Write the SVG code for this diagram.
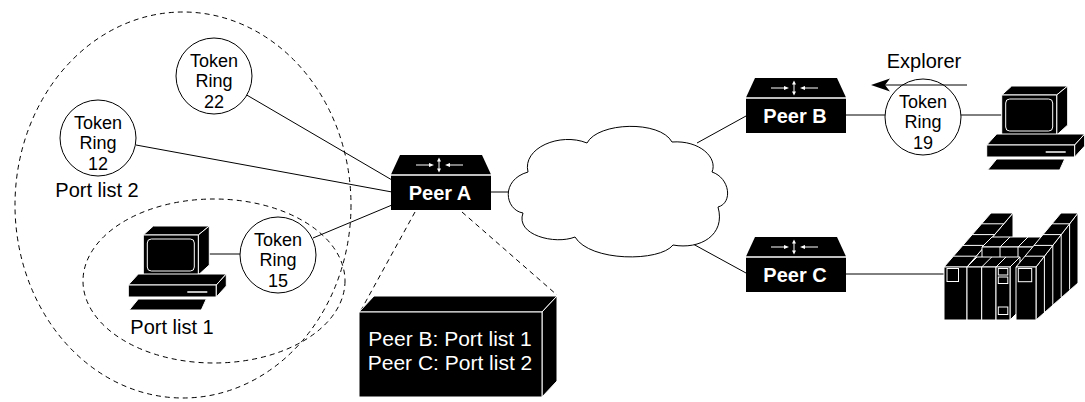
<svg xmlns="http://www.w3.org/2000/svg" xmlns:xlink="http://www.w3.org/1999/xlink" width="1085" height="402" viewBox="0 0 1085 402">
  <style>
    .ln { stroke: #000; stroke-width: 1; fill: none; }
    .dash { stroke: #000; stroke-width: 1; fill: none; stroke-dasharray: 5 4; }
    .ring { fill: #fff; stroke: #000; stroke-width: 1; }
    .txt { font-family: "Liberation Sans", Arial, Helvetica, sans-serif; fill: #000; }
    .tr { font-size: 18px; text-anchor: middle; }
    .lbl { font-size: 20px; }
    .rt { font-family: "Liberation Sans", Arial, Helvetica, sans-serif; font-size: 20px; font-weight: bold; fill: #fff; text-anchor: middle; }
    .wt { font-family: "Liberation Sans", Arial, Helvetica, sans-serif; font-size: 21px; fill: #fff; text-anchor: middle; }
    .blk { fill: #000; stroke: #fff; stroke-width: 1; stroke-linejoin: round; }
    .wl { stroke: #fff; stroke-width: 1; fill: none; }
  </style>
  <defs>
    <!-- router: origin at top-centre of the chassis -->
    <g id="router">
      <polygon points="-41,0 41,0 50,19.5 -50,19.5" fill="#000"/>
      <rect x="-50" y="20.5" width="100" height="34.5" fill="#000"/>
      <line x1="-50" y1="20" x2="50" y2="20" stroke="#fff" stroke-width="1"/>
      <line x1="-25" y1="10" x2="-10" y2="10" class="wl"/>
      <polygon points="-7,10 -12,8 -12,12" fill="#fff"/>
      <line x1="22" y1="10" x2="7" y2="10" class="wl"/>
      <polygon points="4,10 9,8 9,12" fill="#fff"/>
      <line x1="-2" y1="5" x2="-2" y2="15" class="wl"/>
      <polygon points="-2,2.5 -4,6.5 0,6.5" fill="#fff"/>
      <polygon points="-2,17.5 -4,13.5 0,13.5" fill="#fff"/>
    </g>
    <!-- workstation: origin at top-left of the monitor front -->
    <g id="pc">
      <polygon class="blk" points="0,0 10,-9 66,-9 55,0"/>
      <polygon class="blk" points="55,0 66,-9 66,30 55,40"/>
      <rect class="blk" x="0" y="0" width="55" height="40"/>
      <rect x="4" y="4" width="47" height="32" rx="4" fill="none" stroke="#fff" stroke-width="1"/>
      <polygon class="blk" points="-15,50 -5,39 83,39 73,50"/>
      <rect class="blk" x="-15" y="50" width="88" height="12"/>
      <polygon class="blk" points="73,50 83,39 83,51 73,62"/>
      <line x1="44" y1="57" x2="64" y2="57" stroke="#fff" stroke-width="1.5"/>
      <polygon class="blk" points="-14,75 -5,64 63,64 58,75"/>
    </g>
  </defs>

  <rect width="1085" height="402" fill="#fff"/>

  <!-- port list groupings -->
  <g id="port-lists">
    <ellipse class="dash" cx="183" cy="205" rx="168" ry="193"/>
    <ellipse class="dash" cx="214" cy="281" rx="131" ry="82"/>
  </g>

  <!-- connectors -->
  <g id="connectors">
    <line class="ln" x1="246.7" y1="95" x2="392" y2="180"/>
    <line class="ln" x1="136" y1="145" x2="392" y2="192"/>
    <line class="ln" x1="313" y1="238" x2="392" y2="205"/>
    <line class="ln" x1="209" y1="254" x2="240" y2="254"/>
    <line class="ln" x1="491" y1="192" x2="510" y2="192"/>
    <line class="ln" x1="697" y1="143" x2="746" y2="116"/>
    <line class="ln" x1="693" y1="244" x2="746" y2="273"/>
    <line class="ln" x1="846" y1="115" x2="885" y2="115"/>
    <line class="ln" x1="961" y1="115" x2="1002" y2="115"/>
    <line class="ln" x1="846" y1="274" x2="944" y2="274"/>
    <line class="dash" x1="415" y1="212" x2="360" y2="312"/>
    <line class="dash" x1="462" y1="212" x2="557" y2="295"/>
  </g>

  <!-- Peer A -->
  <g id="peer-a">
    <use xlink:href="#router" href="#router" transform="translate(441,155)"/>
    <text class="rt" x="440" y="200">Peer A</text>
  </g>

  <!-- Peer B -->
  <g id="peer-b">
    <use xlink:href="#router" href="#router" transform="translate(796,78)"/>
    <text class="rt" x="795" y="123">Peer B</text>
  </g>

  <!-- Peer C -->
  <g id="peer-c">
    <use xlink:href="#router" href="#router" transform="translate(796,237)"/>
    <text class="rt" x="795" y="282">Peer C</text>
  </g>

  <!-- WAN cloud -->
  <g id="cloud">
    <path fill="#fff" stroke="#000" stroke-width="1"
          d="M523,213 C505,210 500,180 528,172 C522,148 560,132 587,143 C598,122 660,120 672,142 C700,140 718,158 712,172 C730,178 733,203 718,207 C726,235 700,250 673,245 C660,262 590,262 575,237 C555,245 515,235 523,213 Z"/>
  </g>

  <!-- Token Ring 22 -->
  <g id="ring-22">
    <circle class="ring" cx="214" cy="76" r="38"/>
    <text class="txt tr" x="214" y="66.5">Token</text>
    <text class="txt tr" x="214" y="87">Ring</text>
    <text class="txt tr" x="214" y="107.5">22</text>
  </g>

  <!-- Token Ring 12 -->
  <g id="ring-12">
    <circle class="ring" cx="98" cy="138" r="38"/>
    <text class="txt tr" x="98" y="128.5">Token</text>
    <text class="txt tr" x="98" y="149">Ring</text>
    <text class="txt tr" x="98" y="169.5">12</text>
  </g>

  <!-- Token Ring 15 -->
  <g id="ring-15">
    <circle class="ring" cx="278" cy="255" r="38"/>
    <text class="txt tr" x="278" y="245.5">Token</text>
    <text class="txt tr" x="278" y="266">Ring</text>
    <text class="txt tr" x="278" y="286.5">15</text>
  </g>

  <!-- Token Ring 19 -->
  <g id="ring-19">
    <circle class="ring" cx="923" cy="117" r="38"/>
    <text class="txt tr" x="923" y="107.5">Token</text>
    <text class="txt tr" x="923" y="128">Ring</text>
    <text class="txt tr" x="923" y="148.5">19</text>
  </g>

  <!-- explorer frame direction -->
  <g id="explorer">
    <line class="ln" x1="967" y1="85" x2="884" y2="85" stroke-width="1.2"/>
    <polygon points="871,85 890,78.5 885,85 890,91.5" fill="#000"/>
    <text class="txt lbl" x="924" y="68" text-anchor="middle">Explorer</text>
  </g>

  <!-- port list labels -->
  <g id="port-list-2">
    <text class="txt lbl" x="97" y="197" text-anchor="middle">Port list 2</text>
  </g>
  <g id="port-list-1">
    <text class="txt lbl" x="172" y="334" text-anchor="middle">Port list 1</text>
  </g>

  <!-- workstation on ring 15 -->
  <g id="pc-left">
    <use xlink:href="#pc" href="#pc" transform="translate(143.3,235)"/>
  </g>

  <!-- workstation on ring 19 -->
  <g id="pc-right">
    <use xlink:href="#pc" href="#pc" transform="translate(1001.7,95)"/>
  </g>

  <!-- host cabinets behind Peer C -->
  <g id="mainframe">
    <!-- left arm -->
    <polygon class="blk" points="967,267 1013,213 1013,268 967,320"/>
    <polygon class="blk" points="944,267 991,213 1013,213 967,267"/>
    <line class="wl" x1="953.4" y1="256.2" x2="976.2" y2="256.2"/>
    <line class="wl" x1="962.8" y1="245.4" x2="985.4" y2="245.4"/>
    <line class="wl" x1="972.2" y1="234.6" x2="994.6" y2="234.6"/>
    <line class="wl" x1="981.6" y1="223.8" x2="1003.8" y2="223.8"/>
    <rect class="blk" x="944" y="267" width="23" height="53"/>
    <rect x="947" y="268.5" width="11.5" height="13" fill="none" stroke="#fff" stroke-width="1"/>
    <!-- back middle row -->
    <polygon class="blk" points="982,247 992,237 1060,237 1050,247"/>
    <rect class="blk" x="982" y="247" width="68" height="50"/>
    <line class="wl" x1="1000" y1="247" x2="1010" y2="237"/>
    <line class="wl" x1="1018" y1="247" x2="1028" y2="237"/>
    <line class="wl" x1="1033" y1="247" x2="1043" y2="237"/>
    <line class="wl" x1="1000" y1="247" x2="1000" y2="297"/>
    <line class="wl" x1="1018" y1="247" x2="1018" y2="297"/>
    <line class="wl" x1="1033" y1="247" x2="1033" y2="297"/>
    <!-- front middle row -->
    <polygon class="blk" points="1010,267 1020,257 1020,310 1010,320"/>
    <polygon class="blk" points="967,267 977,257 1020,257 1010,267"/>
    <line class="wl" x1="981.7" y1="267" x2="991.7" y2="257"/>
    <line class="wl" x1="996" y1="267" x2="1006" y2="257"/>
    <rect class="blk" x="967" y="267" width="14.7" height="53"/>
    <rect class="blk" x="981.7" y="267" width="14.3" height="53"/>
    <rect class="blk" x="996" y="267" width="14" height="53"/>
    <rect x="998.3" y="268.5" width="9.5" height="6.5" fill="none" stroke="#fff" stroke-width="1"/>
    <rect x="998.3" y="277" width="9.5" height="6.5" fill="none" stroke="#fff" stroke-width="1"/>
    <rect x="998.3" y="307" width="9.5" height="7.5" fill="none" stroke="#fff" stroke-width="1"/>
    <!-- right arm -->
    <polygon class="blk" points="1036,267 1078,213 1078,283 1036,320"/>
    <polygon class="blk" points="1016,267 1061,213 1078,213 1036,267"/>
    <line class="wl" x1="1025" y1="256.2" x2="1044.4" y2="256.2"/>
    <line class="wl" x1="1034" y1="245.4" x2="1052.8" y2="245.4"/>
    <line class="wl" x1="1043" y1="234.6" x2="1061.2" y2="234.6"/>
    <line class="wl" x1="1052" y1="223.8" x2="1069.6" y2="223.8"/>
    <line class="wl" x1="1044.4" y1="256.2" x2="1044.4" y2="312.4"/>
    <line class="wl" x1="1052.8" y1="245.4" x2="1052.8" y2="304.8"/>
    <line class="wl" x1="1061.2" y1="234.6" x2="1061.2" y2="297.2"/>
    <line class="wl" x1="1069.6" y1="223.8" x2="1069.6" y2="289.6"/>
    <rect class="blk" x="1016" y="267" width="20" height="53"/>
    <rect x="1018.3" y="268.5" width="13.4" height="13.2" fill="none" stroke="#fff" stroke-width="1"/>
  </g>

  <!-- Peer A port-list table -->
  <g id="peer-a-table">
    <polygon class="blk" points="359,312 374,296 557,296 542,312"/>
    <polygon class="blk" points="542,312 557,296 557,381 542,397"/>
    <rect class="blk" x="359" y="312" width="183" height="85"/>
    <text class="wt" x="450" y="346">Peer B: Port list 1</text>
    <text class="wt" x="450" y="370">Peer C: Port list 2</text>
  </g>
</svg>
